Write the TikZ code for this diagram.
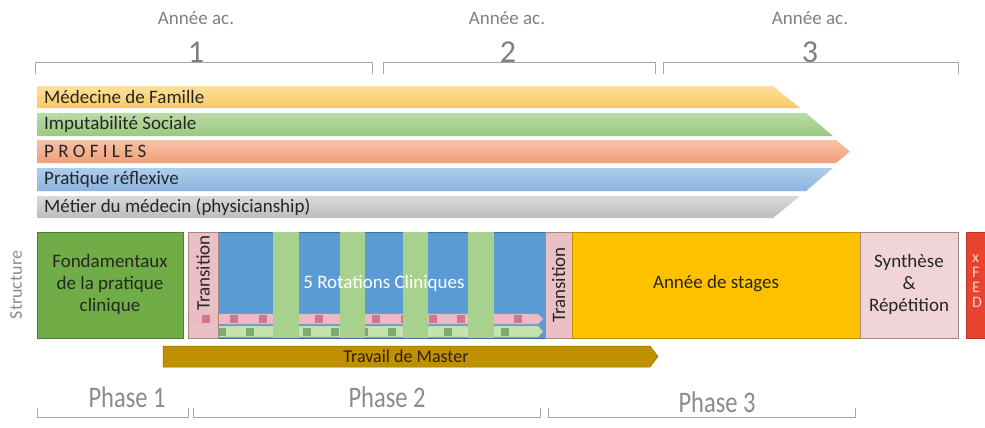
\documentclass[tikz,border=0pt]{standalone}
\usepackage{fontspec}
\setmainfont{Carlito}
\definecolor{txt}{HTML}{262626}
\definecolor{graytxt}{HTML}{808080}
\definecolor{phasetxt}{HTML}{8C8C8C}
\definecolor{brk}{HTML}{A6A6A6}
\definecolor{yT}{HTML}{FDDF9C}
\definecolor{yB}{HTML}{F8C963}
\definecolor{gT}{HTML}{B9DBA5}
\definecolor{gB}{HTML}{9BC87E}
\definecolor{oT}{HTML}{F7C2A6}
\definecolor{oB}{HTML}{F19E78}
\definecolor{bT}{HTML}{AECDEC}
\definecolor{bB}{HTML}{8DB4E2}
\definecolor{sT}{HTML}{D9D9D9}
\definecolor{sB}{HTML}{BDBDBD}
\definecolor{fondG}{HTML}{70AD47}
\definecolor{fondGd}{HTML}{507E32}
\definecolor{pinkT}{HTML}{EAC0C6}
\definecolor{pinkS}{HTML}{F0D4D8}
\definecolor{pinkD}{HTML}{A8877C}
\definecolor{blueR}{HTML}{5B9BD5}
\definecolor{blueRd}{HTML}{41719C}
\definecolor{yel}{HTML}{FFC000}
\definecolor{yeld}{HTML}{BF9000}
\definecolor{redB}{HTML}{E8432F}
\definecolor{redBd}{HTML}{B83222}
\definecolor{redtxt}{HTML}{F8D2C8}
\definecolor{barG}{HTML}{A9D18E}
\definecolor{pTrack}{HTML}{EDBAC1}
\definecolor{pSq}{HTML}{C9687A}
\definecolor{gTrack}{HTML}{C4E3B1}
\definecolor{gSq}{HTML}{6A9D5C}
\definecolor{gold}{HTML}{BF9000}
\definecolor{goldd}{HTML}{8F6C00}
\definecolor{goldtxt}{HTML}{2E1F00}
\tikzset{
  hdr/.style={font=\fontsize{19}{21}\selectfont, text=graytxt, inner sep=0pt},
  num/.style={font=\fontsize{32}{34}\selectfont, text=graytxt, inner sep=0pt},
  brkline/.style={draw=brk, line width=1pt},
  bandtxt/.style={anchor=west, font=\fontsize{19}{21}\selectfont, text=txt, inner sep=0pt},
  lbl/.style={font=\fontsize{19}{22}\selectfont, text=txt, align=center, inner sep=0pt},
  sbox/.style={line width=0.9pt, outer sep=0pt, inner sep=0pt},
  vtxt/.style={rotate=90, font=\fontsize{19}{21}\selectfont, text=txt, inner sep=0pt},
  phase/.style={font=\fontsize{24.5}{26}\selectfont, text=phasetxt, inner sep=0pt},
}
\begin{document}
\begin{tikzpicture}[x=1pt,y=-1pt]
\useasboundingbox (0,0) rectangle (985,428);
\fill[white] (0,0) rectangle (985,428);

% ---- academic years header
\node[hdr] (y1) at (196,18) {Année ac.};
\node[hdr] (y2) at (507,18) {Année ac.};
\node[hdr] (y3) at (810,18) {Année ac.};
\node[num] (n1) at (196,52) {1};
\node[num] (n2) at (508,52) {2};
\node[num] (n3) at (810,52) {3};
\draw[brkline] (35,74) -- (35,63) -- (372,63) -- (372,74);
\draw[brkline] (383,74) -- (383,63) -- (655,63) -- (655,74);
\draw[brkline] (663,74) -- (663,63) -- (958,63) -- (958,74);

% ---- thematic bands
\shade[top color=yT, bottom color=yB] (37,86) -- (773,86) -- (800,108) -- (37,108) -- cycle;
\shade[top color=gT, bottom color=gB] (37,113) -- (806,113) -- (833,136) -- (37,136) -- cycle;
\shade[top color=oT, bottom color=oB] (37,140) -- (836,140) -- (850,151.5) -- (836,163) -- (37,163) -- cycle;
\shade[top color=bT, bottom color=bB] (37,168) -- (833,168) -- (806,191) -- (37,191) -- cycle;
\shade[top color=sT, bottom color=sB] (37,196) -- (800,196) -- (773,218) -- (37,218) -- cycle;
\node[bandtxt] (b1) at (44,97) {Médecine de Famille};
\node[bandtxt] (b2) at (44,124.5) {Imputabilité Sociale};
\node[bandtxt] (b3) at (44,151.5) {P R O F I L E S};
\node[bandtxt] (b4) at (44,179.5) {Pratique réflexive};
\node[bandtxt] (b5) at (44,207) {Métier du médecin (physicianship)};

% ---- structure row
\node[rotate=90, font=\fontsize{18}{20}\selectfont, text=phasetxt, inner sep=0pt] (struct) at (16,285) {Structure};

\node[sbox, fill=fondG, draw=fondGd, minimum width=146pt, minimum height=106pt] (fond) at (110,285) {};
\node[lbl] (fondt) at (110,284) {Fondamentaux\\de la pratique\\clinique};

\node[sbox, fill=pinkT, draw=pinkD, minimum width=30pt, minimum height=106pt] (tr1) at (203,285) {};
\node[sbox, fill=blueR, draw=blueRd, minimum width=327pt, minimum height=106pt] (rot) at (381.5,285) {};

% tracks
\path[fill=pTrack, draw=pinkD!60, line width=0.4pt] (188,314) -- (538,314) -- (543,319) -- (538,324) -- (188,324) -- cycle;
\foreach \i in {0,...,11} \fill[pSq, opacity=0.8] ({206+28.36*\i-4},315) rectangle ++(8,8);
\path[fill=gTrack, draw=fondGd!50, line width=0.4pt] (218,326) -- (538,326) -- (543,331.5) -- (538,337) -- (218,337) -- cycle;
\foreach \i in {0,...,10} \fill[gSq, opacity=0.8] ({222+28.3*\i-4},327.5) rectangle ++(8,8.5);
\draw[pinkD, line width=0.9pt] (188,232) rectangle (218,338);

% green rotation bars
\fill[barG] (273,232) rectangle (299,338);
\fill[barG] (340,232) rectangle (365,338);
\fill[barG] (403,232) rectangle (428,338);
\fill[barG] (468,232) rectangle (494,338);

\node[vtxt] (tr1t) at (203,273) {Transition};
\node[lbl, text=white] (rott) at (384,283) {5 Rotations Cliniques};

\node[sbox, fill=pinkT, draw=pinkD, minimum width=27pt, minimum height=106pt] (tr2) at (558.5,285) {};
\node[vtxt] (tr2t) at (558.5,285) {Transition};

\node[sbox, fill=yel, draw=yeld, minimum width=288pt, minimum height=106pt] (stages) at (716,285) {};
\node[lbl] (stagest) at (716,284) {Année de stages};

\node[sbox, fill=pinkS, draw=pinkD, minimum width=98pt, minimum height=106pt] (synth) at (909,285) {};
\node[lbl] (syntht) at (909,284) {Synthèse\\\&\\Répétition};

\node[sbox, fill=redB, draw=redBd, minimum width=30pt, minimum height=106pt] (fed) at (981,285) {};
\node[anchor=west, align=left, font=\fontsize{16}{15}\selectfont, text=redtxt, inner sep=0pt] (fedt) at (972,281) {x\\F\\E\\D};

% ---- Travail de Master
\path[fill=gold, draw=goldd, line width=0.5pt] (163,346) -- (650,346) -- (658,356.5) -- (650,367) -- (163,367) -- cycle;
\node[font=\fontsize{18}{20}\selectfont, text=goldtxt, inner sep=0pt] (master) at (406,356.5) {Travail de Master};

% ---- phases
\node[phase] (p1) at (127,397) {\scalebox{1}[1.22]{Phase 1}};
\node[phase] (p2) at (387,397) {\scalebox{1}[1.22]{Phase 2}};
\node[phase] (p3) at (717,402) {\scalebox{1}[1.22]{Phase 3}};
\draw[brkline] (37,408) -- (37,417) -- (188,417) -- (188,408);
\draw[brkline] (193,408) -- (193,417) -- (540,417) -- (540,408);
\draw[brkline] (548,408) -- (548,417) -- (855,417) -- (855,408);
\end{tikzpicture}
\end{document}
